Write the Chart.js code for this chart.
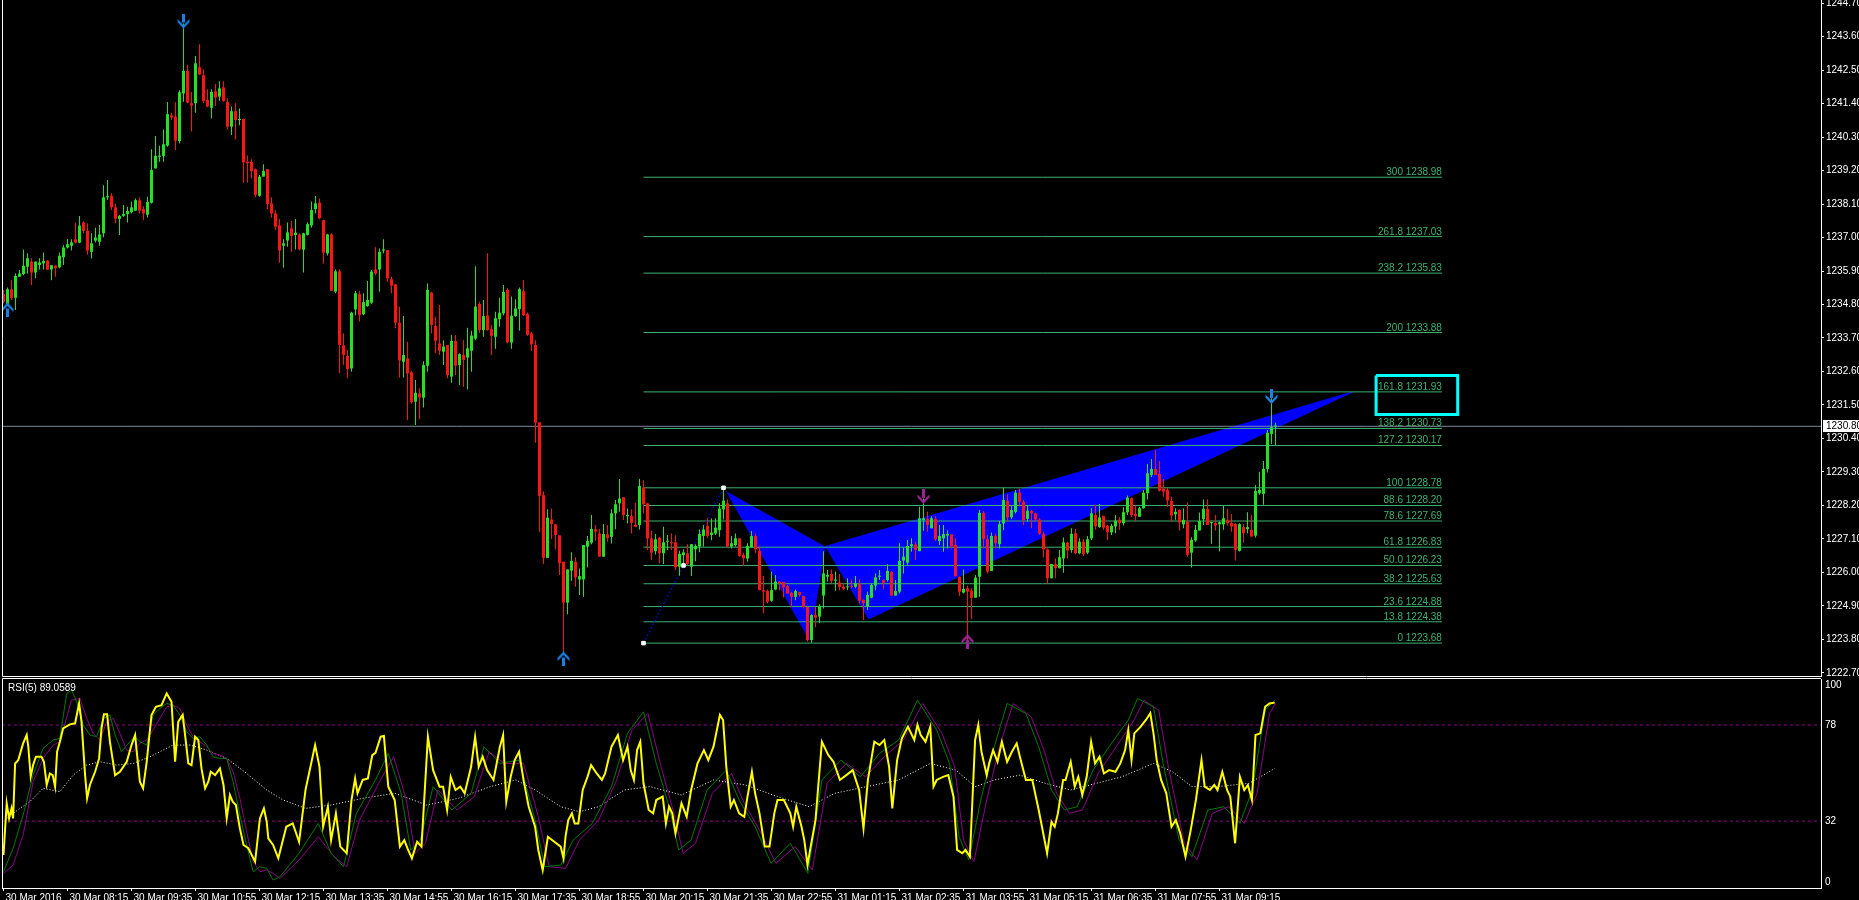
<!DOCTYPE html>
<html>
<head>
<meta charset="utf-8">
<script src="https://cdn.jsdelivr.net/npm/chart.js@4.4.1/dist/chart.umd.min.js"></script>
<style>
  html, body { margin: 0; padding: 0; background: #000; overflow: hidden; }
  canvas { position: absolute; left: 0; }
</style>
</head>
<body>
<canvas id="priceChart" width="1859" height="678" style="top:0"></canvas>
<canvas id="rsiChart" width="1859" height="222" style="top:678px"></canvas>
<script>
const FONT = '"Liberation Sans", Arial, sans-serif';
const FONT_SIZE = 10;

// x axis: one label every 16 bars (M5)
const timeTickBars = [0, 16, 32, 48, 64, 80, 96, 112, 128, 144, 160, 176, 192, 208, 224, 240, 256, 272, 288, 304];
const timeLabels = ['30 Mar 2016', '30 Mar 08:15', '30 Mar 09:35', '30 Mar 10:55', '30 Mar 12:15', '30 Mar 13:35',
  '30 Mar 14:55', '30 Mar 16:15', '30 Mar 17:35', '30 Mar 18:55', '30 Mar 20:15', '30 Mar 21:35', '30 Mar 22:55',
  '31 Mar 01:15', '31 Mar 02:35', '31 Mar 03:55', '31 Mar 05:15', '31 Mar 06:35', '31 Mar 07:55', '31 Mar 09:15'];

const priceTicks = [1222.70, 1223.80, 1224.90, 1226.00, 1227.10, 1228.20, 1229.30, 1230.40, 1231.50, 1232.60, 1233.70,
  1234.80, 1235.90, 1237.00, 1238.10, 1239.20, 1240.30, 1241.40, 1242.50, 1243.60, 1244.70];
const currentPrice = 1230.80;

const opens = [
  1235.14,1234.82,1235.30,1235.02,1235.71,1235.80,1236.04,1236.21,1235.85,1236.10,
  1236.15,1236.24,1235.95,1236.08,1236.02,1236.35,1236.67,1236.73,1236.94,1236.83,
  1237.49,1237.22,1236.53,1236.90,1236.86,1237.14,1238.32,1238.37,1237.99,1237.61,
  1237.71,1237.77,1237.83,1237.88,1238.22,1237.93,1237.75,1238.14,1239.27,1239.65,
  1239.68,1240.02,1241.01,1240.97,1240.17,1241.73,1242.47,1241.41,1241.41,1242.59,
  1242.33,1241.52,1241.26,1241.80,1241.63,1241.93,1241.45,1240.64,1241.15,1240.86,
  1240.89,1239.49,1239.48,1239.24,1238.37,1239.00,1239.24,1238.12,1237.79,1237.40,
  1236.73,1236.90,1237.30,1237.08,1237.10,1236.60,1237.09,1237.40,1237.93,1238.14,
  1237.57,1236.48,1237.10,1235.22,1235.89,1233.46,1233.11,1232.70,1234.64,1235.14,
  1234.48,1234.75,1234.86,1235.95,1235.95,1236.57,1236.59,1235.63,1235.46,1234.20,
  1232.92,1233.03,1232.57,1231.61,1231.88,1231.74,1232.79,1235.19,1234.09,1233.52,
  1233.25,1233.47,1232.43,1233.60,1232.81,1233.14,1233.06,1233.28,1233.68,1234.82,
  1233.96,1234.44,1233.99,1233.74,1234.32,1234.51,1235.28,1233.55,1234.42,1234.65,
  1235.24,1234.49,1233.85,1233.47,1230.93,1228.54,1226.48,1227.74,1227.58,1227.22,
  1226.35,1225.01,1226.06,1226.35,1225.77,1225.77,1226.85,1226.98,1227.42,1227.28,
  1226.52,1227.25,1227.17,1227.94,1228.27,1228.47,1227.85,1227.85,1227.56,1227.56,
  1228.79,1228.27,1227.12,1226.70,1227.14,1226.63,1227.01,1226.99,1226.99,1226.19,
  1226.57,1226.63,1226.19,1226.76,1226.85,1227.20,1227.52,1227.23,1227.28,1227.39,
  1228.07,1228.27,1226.85,1226.90,1227.12,1226.57,1226.46,1226.82,1227.20,1226.71,
  1225.42,1225.39,1225.07,1225.44,1225.70,1225.69,1225.55,1225.33,1225.20,1225.36,
  1225.23,1224.87,1223.78,1224.60,1224.55,1225.24,1225.86,1225.95,1225.73,1225.67,
  1225.53,1225.51,1225.56,1225.53,1225.62,1225.10,1224.90,1225.17,1225.57,1225.86,
  1225.75,1225.75,1226.02,1225.24,1225.37,1226.39,1226.32,1226.87,1226.92,1226.70,
  1227.72,1227.76,1227.45,1227.76,1227.03,1227.12,1227.21,1227.25,1226.90,1225.86,
  1225.34,1225.48,1225.40,1225.17,1225.86,1227.96,1227.09,1226.05,1227.20,1226.93,
  1227.61,1228.35,1227.81,1227.99,1228.62,1228.32,1227.76,1228.02,1227.94,1227.74,
  1227.26,1226.76,1225.81,1226.27,1226.14,1226.46,1226.98,1226.74,1227.29,1226.63,
  1227.01,1226.65,1227.12,1227.89,1227.49,1227.86,1227.53,1227.32,1227.51,1227.73,
  1227.62,1227.98,1228.44,1227.92,1227.83,1228.11,1228.60,1229.20,1229.40,1229.23,
  1228.75,1228.71,1228.35,1227.91,1228.05,1227.58,1227.67,1226.65,1227.05,1227.38,
  1227.75,1228.09,1227.62,1227.62,1227.58,1227.58,1227.73,1227.62,1227.59,1226.71,
  1227.49,1227.42,1227.40,1227.21,1228.60,1228.58,1229.40,1230.55,1230.79
];
const highs = [
  1235.28,1235.36,1235.60,1235.82,1235.93,1236.61,1236.48,1236.32,1236.21,1236.32,
  1236.51,1236.26,1236.09,1236.08,1236.51,1236.75,1236.95,1236.94,1237.49,1237.71,
  1237.53,1237.47,1237.14,1237.32,1237.41,1238.72,1238.89,1238.45,1238.10,1237.74,
  1238.07,1238.01,1238.18,1238.28,1238.31,1238.03,1238.34,1239.90,1240.33,1240.01,
  1240.55,1241.45,1241.10,1241.44,1241.84,1244.03,1242.67,1241.78,1242.96,1243.35,
  1242.52,1241.87,1241.87,1242.04,1242.13,1242.13,1241.57,1241.30,1241.41,1241.24,
  1240.91,1239.69,1239.57,1239.27,1239.05,1239.41,1239.24,1238.31,1237.90,1237.61,
  1236.94,1237.49,1237.55,1237.61,1237.14,1237.16,1237.50,1238.18,1238.36,1238.28,
  1237.57,1237.12,1237.14,1235.95,1235.95,1233.85,1233.31,1234.56,1235.24,1235.25,
  1235.17,1235.57,1235.93,1236.68,1236.64,1236.94,1236.59,1235.71,1235.47,1234.73,
  1234.42,1233.58,1232.63,1232.32,1232.05,1232.94,1235.49,1235.22,1234.40,1234.78,
  1233.63,1233.47,1233.80,1233.80,1233.20,1233.63,1234.04,1233.94,1236.06,1234.89,
  1234.95,1236.48,1234.13,1234.56,1235.02,1235.44,1235.33,1235.06,1234.97,1235.36,
  1235.60,1234.54,1233.90,1233.63,1230.93,1228.67,1228.08,1228.10,1227.58,1227.22,
  1226.35,1226.10,1226.66,1226.50,1226.13,1226.90,1227.20,1227.89,1227.56,1227.42,
  1227.59,1227.56,1228.08,1228.38,1229.07,1228.47,1228.10,1228.07,1228.29,1229.07,
  1229.03,1228.27,1227.37,1227.26,1227.17,1227.50,1227.23,1227.28,1227.22,1226.71,
  1226.76,1226.93,1226.93,1226.93,1227.41,1227.56,1227.78,1227.78,1227.78,1228.27,
  1228.82,1228.40,1227.20,1227.28,1227.12,1226.65,1226.96,1227.36,1227.28,1226.85,
  1225.88,1225.44,1226.02,1225.92,1225.70,1225.69,1225.59,1225.37,1225.44,1225.37,
  1225.23,1224.87,1224.63,1224.87,1224.96,1226.70,1226.08,1226.10,1226.03,1225.95,
  1225.64,1225.81,1225.77,1225.88,1225.77,1225.12,1225.37,1225.64,1225.97,1226.08,
  1225.77,1226.27,1226.05,1225.75,1226.96,1226.83,1227.07,1227.12,1227.01,1228.16,
  1228.43,1227.99,1227.85,1227.85,1227.56,1227.56,1227.39,1227.25,1227.12,1225.86,
  1226.10,1225.56,1225.48,1225.92,1228.05,1228.02,1227.23,1227.31,1227.28,1227.69,
  1228.78,1228.57,1228.19,1228.71,1228.76,1228.38,1228.19,1228.05,1227.96,1227.78,
  1227.34,1226.79,1226.28,1226.46,1226.74,1227.15,1227.01,1227.45,1227.43,1227.12,
  1227.10,1227.20,1228.11,1228.22,1228.25,1227.86,1227.56,1227.60,1227.89,1227.81,
  1228.14,1228.53,1228.46,1228.20,1228.16,1228.71,1229.56,1229.73,1230.02,1229.66,
  1229.07,1228.77,1228.49,1228.11,1228.08,1228.11,1228.31,1227.16,1227.56,1227.97,
  1228.40,1228.40,1227.67,1227.89,1227.67,1228.20,1228.09,1227.92,1227.62,1227.62,
  1227.59,1227.98,1227.89,1228.87,1229.31,1229.66,1230.68,1231.72,1230.92
];
const lows = [
  1234.84,1234.78,1234.95,1234.62,1235.71,1235.76,1235.82,1235.44,1235.66,1235.95,
  1235.95,1235.93,1235.60,1235.71,1235.99,1236.10,1236.64,1236.57,1236.81,1236.81,
  1237.14,1236.43,1236.31,1236.84,1236.73,1237.01,1238.23,1237.90,1237.47,1237.08,
  1237.68,1237.49,1237.79,1237.88,1237.79,1237.57,1237.66,1238.12,1239.27,1239.49,
  1239.49,1239.98,1240.86,1239.87,1240.09,1241.46,1241.41,1240.48,1241.10,1242.34,
  1241.41,1241.28,1240.91,1241.32,1241.49,1241.46,1240.55,1240.37,1240.22,1240.69,
  1238.80,1238.81,1238.94,1238.32,1238.34,1239.00,1237.93,1237.66,1237.25,1236.17,
  1236.01,1236.70,1236.53,1236.61,1236.57,1235.85,1237.07,1237.32,1237.79,1237.60,
  1236.15,1236.41,1235.25,1235.17,1232.54,1232.81,1232.38,1232.59,1234.45,1234.24,
  1234.45,1234.73,1234.82,1235.77,1235.22,1236.48,1235.55,1235.17,1234.02,1232.40,
  1232.40,1231.01,1231.53,1230.84,1231.03,1231.42,1232.59,1233.85,1233.20,1233.14,
  1232.81,1232.38,1232.23,1232.48,1232.16,1232.10,1232.01,1232.59,1233.63,1233.87,
  1233.74,1233.94,1233.14,1233.35,1234.07,1234.45,1233.52,1233.35,1234.40,1233.94,
  1234.42,1233.77,1233.28,1230.26,1227.34,1226.28,1226.48,1227.10,1226.76,1225.92,
  1223.34,1224.63,1225.73,1225.53,1225.26,1225.20,1226.17,1226.93,1227.04,1226.52,
  1226.52,1227.01,1226.95,1227.42,1227.99,1227.72,1227.61,1227.28,1227.50,1227.41,
  1227.94,1226.74,1226.41,1226.59,1226.30,1226.28,1226.74,1226.74,1226.08,1225.89,
  1226.28,1226.24,1225.88,1226.37,1226.66,1226.85,1227.12,1227.06,1227.23,1227.17,
  1227.74,1226.82,1226.79,1226.85,1226.52,1226.21,1226.35,1226.82,1226.65,1225.42,
  1224.66,1224.98,1225.04,1225.42,1225.42,1225.18,1225.29,1224.87,1225.09,1225.20,
  1224.82,1223.73,1223.69,1224.20,1224.33,1224.82,1225.70,1225.64,1225.40,1225.42,
  1225.42,1225.42,1225.48,1225.48,1224.99,1224.44,1224.77,1225.15,1225.42,1225.75,
  1225.45,1225.70,1225.24,1225.24,1225.31,1225.97,1226.25,1226.68,1226.41,1226.70,
  1227.37,1227.34,1227.45,1227.03,1226.90,1226.68,1226.79,1226.79,1225.86,1225.23,
  1225.31,1223.67,1224.47,1225.17,1225.20,1226.79,1225.97,1226.05,1226.79,1226.79,
  1227.39,1227.67,1227.76,1227.94,1228.16,1227.56,1227.67,1227.45,1227.67,1227.23,
  1226.50,1225.64,1225.81,1225.81,1226.14,1225.99,1226.46,1226.65,1226.60,1226.60,
  1226.54,1226.60,1227.07,1227.40,1227.47,1227.40,1227.07,1227.23,1227.29,1227.40,
  1227.54,1227.89,1227.81,1227.69,1227.83,1228.09,1228.40,1229.13,1229.20,1228.66,
  1228.49,1228.16,1227.67,1227.73,1227.38,1227.45,1226.52,1226.16,1227.01,1227.38,
  1227.56,1227.56,1226.94,1227.38,1226.69,1227.40,1227.54,1227.34,1226.39,1226.69,
  1226.98,1227.29,1227.18,1227.15,1228.55,1228.22,1229.28,1230.22,1230.19
];
const closes = [
  1234.89,1235.30,1235.02,1235.74,1235.82,1236.07,1236.32,1235.85,1236.21,1236.18,
  1236.23,1235.95,1236.09,1235.99,1236.40,1236.67,1236.78,1236.84,1236.83,1237.39,
  1237.22,1236.57,1236.81,1237.00,1237.10,1238.32,1238.36,1237.99,1237.62,1237.71,
  1237.77,1237.87,1237.99,1238.23,1237.88,1237.79,1238.17,1239.22,1239.68,1239.69,
  1240.06,1241.05,1240.94,1240.18,1241.77,1242.47,1241.43,1241.34,1242.72,1242.35,
  1241.49,1241.30,1241.78,1241.60,1241.90,1241.49,1240.64,1241.15,1240.86,1240.88,
  1239.47,1239.44,1239.18,1238.40,1239.00,1239.18,1238.10,1237.79,1237.36,1236.57,
  1236.81,1237.17,1237.05,1237.16,1236.61,1237.14,1237.44,1237.90,1238.12,1237.63,
  1236.50,1237.10,1235.25,1235.89,1233.47,1233.14,1232.68,1234.53,1235.17,1234.45,
  1234.88,1234.95,1235.88,1235.82,1236.53,1236.61,1235.66,1235.42,1234.20,1232.96,
  1233.14,1232.54,1231.59,1231.90,1231.75,1232.81,1235.28,1234.13,1233.61,1233.28,
  1233.42,1232.48,1233.60,1232.79,1233.17,1232.98,1233.36,1233.78,1234.73,1233.96,
  1234.42,1233.96,1233.77,1234.35,1234.53,1235.21,1233.56,1234.43,1234.67,1235.30,
  1234.45,1233.80,1233.49,1230.92,1228.52,1226.48,1227.80,1227.59,1227.23,1226.30,
  1225.01,1226.10,1226.38,1225.84,1225.88,1226.90,1227.03,1227.43,1227.34,1226.52,
  1227.26,1227.14,1227.94,1228.24,1228.43,1227.89,1227.89,1227.63,1227.50,1228.84,
  1228.24,1227.12,1226.65,1227.09,1226.63,1226.99,1227.03,1226.96,1226.17,1226.61,
  1226.66,1226.28,1226.93,1226.87,1227.26,1227.41,1227.20,1227.31,1227.47,1228.10,
  1228.36,1226.85,1226.96,1227.12,1226.55,1226.46,1226.87,1227.20,1226.76,1225.42,
  1225.37,1225.04,1225.42,1225.70,1225.64,1225.51,1225.31,1225.20,1225.39,1225.26,
  1224.88,1223.78,1224.60,1224.52,1224.90,1225.97,1225.92,1225.73,1225.77,1225.53,
  1225.46,1225.53,1225.53,1225.64,1225.07,1224.99,1225.26,1225.59,1225.84,1225.86,
  1225.66,1226.05,1225.24,1225.39,1226.38,1226.52,1226.87,1226.93,1226.74,1227.78,
  1227.78,1227.56,1227.78,1227.09,1227.20,1227.26,1227.26,1226.85,1225.88,1225.37,
  1225.46,1225.37,1225.17,1225.83,1227.96,1227.09,1226.03,1227.20,1226.96,1227.59,
  1228.38,1227.81,1228.05,1228.62,1228.32,1227.72,1228.03,1227.94,1227.74,1227.28,
  1226.76,1225.81,1226.28,1226.14,1226.50,1226.99,1226.72,1227.27,1226.63,1227.01,
  1226.60,1227.09,1227.94,1227.51,1227.81,1227.47,1227.32,1227.53,1227.70,1227.62,
  1227.98,1228.46,1227.89,1227.86,1228.11,1228.62,1229.26,1229.40,1229.20,1228.69,
  1228.66,1228.36,1227.87,1227.99,1227.64,1227.73,1226.58,1227.07,1227.40,1227.69,
  1228.09,1227.56,1227.65,1227.54,1227.65,1227.78,1227.62,1227.51,1226.74,1227.59,
  1227.29,1227.49,1227.18,1228.68,1228.71,1229.40,1230.59,1230.77,1230.80
];

// fibonacci expansion
const fibNames = ['0', '13.8', '23.6', '38.2', '50.0', '61.8', '78.6', '88.6', '100', '127.2', '138.2', '161.8', '200', '238.2', '261.8', '300'];
const fibPrices = [1223.68, 1224.38, 1224.88, 1225.63, 1226.23, 1226.83, 1227.69, 1228.20, 1228.78, 1230.17, 1230.73, 1231.93, 1233.88, 1235.83, 1237.03, 1238.98];
const fibAnchorBars = [160, 170, 180];
const fibAnchorPrices = [1223.68, 1226.23, 1228.78];
const fibLineEnd = 359.6;

// harmonic pattern X, A, B, C, D
const patternBars = [180.8, 201.5, 205.4, 216.2, 337.3];
const patternPrices = [1228.66, 1223.78, 1226.85, 1224.47, 1231.93];

// cyan box round the 161.8 level
const boxBars = [343.15, 363.55];
const boxPrices = [1232.47, 1231.19];

// fractal arrows
const arrowBars = [1, 45, 140, 230, 241, 317];
const arrowPrices = [1234.62, 1244.11, 1223.16, 1228.50, 1223.73, 1231.78];
const arrowDown = [false, true, false, true, false, true];
const arrowColors = ['#1c7fe3', '#1c7fe3', '#1c7fe3', '#a0229b', '#a0229b', '#1c7fe3'];

// RSI(5) and its signal lines
const rsiTitle = 'RSI(5) 89.0589';
const rsiLevels = [78, 32];
const rsiLevelLabels = [100, 78, 32, 0];
const rsiBars = [
  0.0,0.3,0.8,1.4,2.0,2.4,2.9,3.7,4.9,5.8, 6.2,6.8,7.4,8.1,9.5,10.1,10.8,11.6,12.3,12.9,
  13.4,14.1,14.9,16.6,17.9,18.9,19.5,20.4,20.9,21.6, 22.9,23.9,24.5,25.1,25.9,26.6,27.9,29.1,30.8,32.0,
  32.9,33.4,34.1,34.9,35.8,37.0,38.1,39.5,40.8,42.0, 42.4,42.9,43.7,44.8,45.4,46.2,47.0,47.9,48.7,49.5,
  50.4,51.2,51.8,52.9,54.1,55.0,55.8,56.6,57.3,58.1, 59.1,60.0,61.2,62.9,64.1,65.1,65.8,66.2,67.4,68.7,
  70.7,72.3,73.9,75.5,77.9,79.0,79.9,81.1,81.9,83.1, 84.2,85.8,87.0,87.9,88.5,89.8,91.1,92.2,93.0,94.3,
  95.1,96.2,97.8,99.1,100.2,101.0,102.1,103.4,104.5,106.1, 107.4,109.0,109.9,110.9,111.8,113.0,114.2,115.3,116.9,117.9,
  118.8,119.8,120.9,122.5,124.1,124.9,125.7,126.8,127.8,128.9, 130.0,131.3,132.9,133.7,134.8,136.1,137.7,139.3,140.0,140.5,
  141.2,142.1,142.8,143.7,144.8,146.0,146.9,148.3,149.6,150.4, 152.0,153.6,154.9,156.0,156.8,157.6,158.4,159.2,160.0,161.3,
  162.4,163.2,164.8,165.6,166.4,167.2,168.0,169.5,170.8,171.9, 173.5,175.1,176.2,177.5,179.1,179.9,180.7,181.8,182.6,183.9,
  185.2,186.0,187.1,187.9,189.0,190.3,191.5,192.7,193.5,195.1, 196.7,197.4,198.2,199.5,200.2,201.0,201.8,203.0,204.6,206.2,
  207.5,209.1,210.7,212.3,213.9,215.0,216.1,217.7,219.0,220.2, 221.4,222.2,223.4,224.6,226.1,227.7,228.5,229.3,230.5,231.7,
  232.5,233.3,234.9,236.2,237.5,238.4,239.7,240.5,241.6,242.9, 243.7,244.5,245.8,246.4,247.4,248.5,249.6,250.9,252.1,253.3,
  254.1,255.6,257.2,258.8,260.1,260.9,262.0,262.8,263.6,264.9, 265.5,266.8,267.8,268.7,269.7,270.8,271.9,272.9,274.0,275.1,
  276.4,278.0,279.2,280.4,281.2,282.0,282.7,284.3,285.6,286.7, 287.5,288.3,289.4,290.7,292.0,293.1,294.2,295.5,296.8,298.1,
  299.5,300.3,301.6,302.7,303.5,304.7,305.9,306.7,307.9,309.1, 310.2,311.1,312.1,313.0,314.2,315.4,316.5,317.8
];
const rsiValues = [
  15.8,25.3,40.5,33.3,38.1,33.3,59.6,61.2,69.2,73.2, 67.6,53.3,58.8,62.8,62.8,60.4,49.3,54.8,54.0,48.5,
  65.2,70.0,76.4,78.3,78.8,88.3,79.6,54.0,42.9,49.3, 55.6,62.0,76.4,83.1,83.1,70.0,54.0,55.6,60.4,68.4,
  73.2,63.6,50.9,47.7,60.4,82.8,86.7,87.5,93.1,89.1, 76.4,60.4,79.6,82.8,73.2,59.6,58.8,72.4,70.8,57.2,
  47.7,50.9,55.6,54.0,57.2,49.3,33.3,44.5,41.3,39.7, 28.5,20.6,19.0,12.6,33.3,38.1,31.7,23.7,20.6,14.2,
  29.3,30.9,22.1,46.9,68.4,58.0,29.3,38.9,22.9,35.7, 19.8,16.6,42.1,52.4,45.3,51.7,52.4,63.6,64.7,72.4,
  72.7,48.5,42.1,19.8,22.9,19.0,14.2,22.1,19.8,72.4, 56.4,48.5,48.5,37.3,53.2,46.9,48.5,45.3,58.0,72.4,
  58.0,62.8,56.4,51.7,67.6,73.2,41.3,53.2,61.2,65.2, 51.7,38.9,29.3,18.2,8.6,24.5,22.1,19.8,14.2,24.5,
  32.5,35.7,30.9,30.9,46.9,53.2,58.8,54.8,51.7,54.8, 67.6,73.2,61.2,67.6,56.4,51.7,66.0,70.0,50.1,37.3,
  35.7,42.1,43.7,30.9,38.9,35.7,26.1,40.5,34.1,46.9, 59.6,66.0,61.2,67.6,82.8,80.4,58.0,38.9,42.1,35.7,
  34.1,43.7,55.6,45.3,35.7,19.8,19.8,35.7,42.1,42.1, 35.7,29.3,38.9,29.3,22.9,11.0,19.8,32.5,70.0,63.6,
  60.4,51.7,54.0,56.4,46.9,28.5,51.7,70.0,68.4,70.8, 58.0,38.1,61.2,71.6,77.2,70.8,78.0,73.2,70.0,77.2,
  48.5,51.7,53.2,54.0,43.7,18.2,16.6,18.2,15.0,70.8, 78.0,65.2,54.0,59.6,66.0,60.4,70.0,60.4,65.2,69.2,
  62.8,51.7,51.7,37.3,24.5,16.6,31.7,29.3,35.7,51.7, 51.7,60.4,48.5,53.2,44.5,53.2,70.0,59.6,62.8,54.8,
  56.4,55.6,59.6,66.0,75.6,61.2,74.0,77.2,80.4,83.6, 74.0,61.2,51.7,45.3,29.3,32.5,26.1,15.0,27.7,42.1,
  61.2,48.5,46.9,49.3,46.9,55.6,46.9,43.7,21.4,53.2, 46.9,49.3,42.1,73.2,74.0,86.7,88.3,88.7
];
const fastBars = [
  0,2.4,4.9,7.4,9.9,12.4,14.1,15.8,17.0,18.3, 19.9,21.6,23.3,25.0,26.6,27.9,29.5,31.6,32.9,34.1,
  35.8,37.4,39.1,40.8,42.4,44.1,45.8,47.4,49.1,50.8, 52.4,54.1,55.8,57.4,59.1,60.8,62.4,64.1,65.8,67.4,
  69.1,73.9,78.7,81.9,85.0,88.2,93.0,96.2,99.4,101.8, 104.2,107.4,112.1,116.9,120.1,124.1,128.9,132.9,135.3,139.3,
  142.4,147.2,152.0,156.0,160.0,163.2,166.4,168.8,171.9,175.9, 180.7,183.9,187.9,191.9,196.7,201.1,204.6,209.4,214.2,219.0,
  223.8,228.5,233.3,236.5,238.9,241.3,244.5,247.7,250.9,255.6, 258.8,262.0,265.2,268.4,272.4,276.4,281.2,283.5,287.5,289.9,
  293.9,297.1,301.1,305.1,309.1,312.2,315.4,317.8
];
const fastValues = [
  7.8,19.0,34.9,54.0,66.8,70.8,71.6,93.1,94.7,89.1, 78.0,73.2,72.4,81.2,82.8,73.2,65.2,70.0,72.4,70.0,
  68.4,82.8,85.9,88.3,87.5,82.8,74.8,71.6,72.4,68.4, 62.8,62.0,62.0,50.9,34.9,20.6,7.8,10.2,9.4,3.8,
  5.4,16.6,30.9,16.6,10.2,35.7,51.7,64.4,45.3,18.2, 22.9,48.5,37.3,45.3,67.6,59.6,61.2,32.5,10.2,11.0,
  22.9,30.9,48.5,74.0,84.3,59.6,38.9,18.2,22.9,46.9, 56.4,42.1,29.3,11.8,21.4,7.0,51.7,61.2,53.2,64.4,
  70.8,89.9,75.6,59.6,24.5,13.4,43.7,67.6,88.3,83.5, 67.6,46.9,37.3,38.9,56.4,67.6,80.4,90.7,86.7,59.6,
  22.9,15.0,37.3,38.9,30.9,46.9,85.1,89.9
];
const slowBars = [
  0,2.4,4.9,7.4,9.9,12.4,14.1,17.0,19.1,20.8, 22.4,24.1,25.8,27.4,29.1,30.8,32.4,34.1,35.8,37.4,
  39.1,40.8,42.4,44.1,45.8,47.4,49.1,50.8,52.4,54.1, 55.8,57.4,59.1,60.8,62.4,64.1,65.8,67.4,
  69.1,73.9,78.7,82.7,85.8,89.0,93.8,97.5,100.7,102.9, 105.5,108.6,113.4,117.7,121.4,125.2,130.0,133.7,136.4,140.5,
  144.0,148.8,153.3,157.1,161.1,164.4,167.6,169.9,173.0,177.2, 182.0,185.2,189.0,193.1,197.9,202.2,205.9,210.7,215.5,220.2,
  225.0,229.8,234.6,237.8,240.0,242.6,245.8,249.0,252.4,256.9, 260.1,263.3,266.5,269.7,273.7,277.6,282.4,285.1,288.8,291.2,
  295.2,298.4,302.2,306.3,310.2,313.4,316.5,318.0
];
const slowValues = [
  7.0,11.0,25.3,50.9,62.0,68.4,70.0,89.9,90.7,81.2, 74.0,70.8,79.6,81.2,74.0,66.0,65.2,69.2,70.8,75.6,
  81.2,86.7,87.5,85.9,78.0,72.4,70.0,67.6,64.4,63.6, 62.0,55.6,42.9,26.9,12.6,7.8,8.6,7.0,
  4.6,13.4,24.5,15.0,10.2,32.5,50.1,62.8,42.1,16.6, 21.4,46.9,37.3,43.7,65.2,59.6,59.6,34.1,10.2,9.4,
  22.9,32.5,51.7,75.6,83.5,58.0,35.7,16.6,21.4,45.3, 54.8,40.5,27.7,11.8,19.8,8.6,50.1,59.6,53.2,62.8,
  70.8,88.3,74.0,58.0,22.9,12.6,42.1,67.6,88.3,82.0, 66.0,45.3,35.7,37.3,54.8,66.0,79.6,89.9,85.1,58.0,
  21.4,13.4,35.7,38.9,30.9,45.3,83.5,88.3
];
const trendBars = [
  0.8,4.1,6.6,9.9,14.1,17.4,20.8,24.1,28.3,32.4,36.6,42.4,46.6,50.8,55.8,60.8,65.8,69.9,
  75.5,81.9,89.8,97.8,105.8,113.7,121.7,128.1,132.9,139.3, 144.0,148.8,155.2,161.6,169.5,177.5,185.5,193.5,201.4,207.8,
  215.8,223.8,231.7,238.1,242.9,247.7,254.1,260.4,266.8,273.2, 279.6,287.5,292.3,297.1,303.5,311.4,317.8
];
const trendValues = [
  33.3,38.1,41.3,47.7,46.1,54.0,58.8,60.4,58.8,59.6,62.8,68.4,68.4,66.0,62.0,54.8,46.9,42.1,
  38.1,39.7,42.9,45.3,39.7,42.9,48.5,51.7,46.9,38.9, 36.5,38.9,46.9,48.5,44.5,51.7,49.3,43.7,38.9,45.3,
  48.5,51.7,59.6,56.4,48.5,51.7,54.0,50.1,46.9,50.1, 53.2,59.6,55.6,48.5,48.5,50.1,57.2
];

const X_MIN = -0.375, X_MAX = 454.375;
const FIB_COLOR = '#3cb371';
const UP = '#25e025', DOWN = '#ff1414';
const candleColors = closes.map((c, i) => (c >= opens[i] ? UP : DOWN));

function arrowImage(color, down) {
  const c = document.createElement('canvas');
  c.width = 13; c.height = 15;
  const g = c.getContext('2d');
  g.fillStyle = color;
  g.translate(6.5, 7.5);
  if (!down) g.scale(1, -1);
  g.fillRect(-1.5, -7.5, 3, 9);
  g.beginPath();
  g.moveTo(-6, -2); g.lineTo(0, 4); g.lineTo(6, -2); g.lineTo(6, 1); g.lineTo(0, 7.5); g.lineTo(-6, 1);
  g.closePath();
  g.fill();
  return c;
}

const pt = (x, y) => ({ x, y });
const P = i => pt(patternBars[i], patternPrices[i]);

const mainDatasets = [
  { type: 'bar', data: opens.map((o, i) => pt(i, [o, closes[i]])), backgroundColor: candleColors,
    barThickness: 3, minBarLength: 1, grouped: false, inflateAmount: 0, borderWidth: 0, order: 4 },
  { type: 'bar', data: lows.map((l, i) => pt(i, [l, highs[i]])), backgroundColor: candleColors,
    barThickness: 1, grouped: false, inflateAmount: 0, borderWidth: 0, order: 5 },
  { type: 'line', data: arrowBars.map((b, i) => pt(b, arrowPrices[i])), showLine: false,
    pointStyle: arrowBars.map((b, i) => arrowImage(arrowColors[i], arrowDown[i])), pointRadius: 7, order: 2 },
  { type: 'line', data: [pt(boxBars[0], boxPrices[0]), pt(boxBars[1], boxPrices[0]), pt(boxBars[1], boxPrices[1]),
      pt(boxBars[0], boxPrices[1]), pt(boxBars[0], boxPrices[0])],
    borderColor: '#00ffff', borderWidth: 3, pointRadius: 0, borderJoinStyle: 'miter', order: 1 },
  { type: 'line', data: fibAnchorBars.map((b, i) => pt(b, fibAnchorPrices[i])), showLine: false,
    pointStyle: 'rect', pointRadius: 2.5, pointBackgroundColor: '#ffffff', pointBorderColor: '#ffffff', order: 0 },
  { type: 'line', data: [pt(X_MIN, currentPrice), pt(X_MAX, currentPrice)], borderColor: '#7d8a99', borderWidth: 1, pointRadius: 0, order: 7 },
  { type: 'line', data: [pt(fibAnchorBars[0], fibAnchorPrices[0]), pt(fibAnchorBars[2], fibAnchorPrices[2])],
    borderColor: '#0000ff', borderWidth: 1, borderDash: [2, 2], pointRadius: 0, order: 8 },
  ...fibPrices.map(p => ({ type: 'line', data: [pt(fibAnchorBars[0], p), pt(fibLineEnd, p)],
    borderColor: FIB_COLOR, borderWidth: 1, pointRadius: 0, order: 9 })),
  { type: 'line', data: [P(0), P(1), P(2)], fill: 'shape', backgroundColor: '#0000ff', borderColor: '#0000ff',
    borderWidth: 1, pointRadius: 0, order: 10 },
  { type: 'line', data: [P(2), P(4), P(3)], fill: 'shape', backgroundColor: '#0000ff', borderColor: '#0000ff',
    borderWidth: 1, pointRadius: 0, order: 10 }
];

const mainOverlay = {
  id: 'mainOverlay',
  afterDatasetsDraw(chart) {
    const { ctx, scales: { x, y } } = chart;
    ctx.save();
    ctx.font = FONT_SIZE + 'px ' + FONT;
    ctx.fillStyle = FIB_COLOR;
    ctx.textAlign = 'right';
    ctx.textBaseline = 'alphabetic';
    const xe = x.getPixelForValue(fibLineEnd);
    fibPrices.forEach((p, i) => ctx.fillText(fibNames[i] + ' ' + p.toFixed(2), xe, y.getPixelForValue(p) - 2));
    ctx.restore();
  },
  afterDraw(chart) {
    const { ctx, chartArea: a, scales: { y } } = chart;
    ctx.save();
    ctx.strokeStyle = '#ffffff';
    ctx.lineWidth = 1;
    ctx.beginPath();
    ctx.moveTo(a.left + 0.5, 0);
    ctx.lineTo(a.left + 0.5, a.bottom + 0.5);
    ctx.lineTo(a.right, a.bottom + 0.5);
    ctx.stroke();
    const py = y.getPixelForValue(currentPrice);
    ctx.fillStyle = '#ffffff';
    ctx.fillRect(a.right + 2, Math.round(py) - 6, 40, 12);
    ctx.fillStyle = '#000000';
    ctx.font = FONT_SIZE + 'px ' + FONT;
    ctx.textAlign = 'left';
    ctx.textBaseline = 'middle';
    ctx.fillText(currentPrice.toFixed(2), a.right + 5, py);
    ctx.restore();
  }
};

new Chart(document.getElementById('priceChart'), {
  type: 'bar',
  data: { datasets: mainDatasets },
  options: {
    responsive: false,
    animation: false,
    events: [],
    layout: { autoPadding: false, padding: { left: 2, top: 0, right: 0, bottom: 2 } },
    plugins: { legend: { display: false }, tooltip: { enabled: false } },
    scales: {
      x: { type: 'linear', min: X_MIN, max: X_MAX, offset: false, display: false },
      y: {
        type: 'linear', position: 'right', min: 1222.60, max: 1244.80, beginAtZero: false,
        afterBuildTicks: s => { s.ticks = priceTicks.map(v => ({ value: v })); },
        afterFit: s => { s.width = 38; s.paddingTop = 0; s.paddingBottom = 0; },
        ticks: { color: '#ffffff', font: { family: FONT, size: FONT_SIZE }, padding: 2, autoSkip: false,
          callback: v => Number(v).toFixed(2) },
        grid: { drawOnChartArea: false, drawTicks: true, tickLength: 3, tickColor: '#ffffff' },
        border: { display: true, color: '#ffffff' }
      }
    }
  },
  plugins: [mainOverlay]
});

const xy = (bars, vals) => bars.map((b, i) => pt(b, vals[i]));

const rsiOverlay = {
  id: 'rsiOverlay',
  afterDraw(chart) {
    const { ctx, chartArea: a, scales: { y } } = chart;
    ctx.save();
    ctx.strokeStyle = '#ffffff';
    ctx.lineWidth = 1;
    ctx.beginPath();
    ctx.moveTo(a.left + 0.5, a.bottom);
    ctx.lineTo(a.left + 0.5, 0.5);
    ctx.lineTo(a.right, 0.5);
    ctx.stroke();
    ctx.font = FONT_SIZE + 'px ' + FONT;
    ctx.fillStyle = '#ffffff';
    ctx.textAlign = 'left';
    ctx.textBaseline = 'middle';
    rsiLevelLabels.forEach(v => {
      const py = Math.min(Math.max(y.getPixelForValue(v), a.top + 6), a.bottom - 6);
      ctx.fillText(String(v), a.right + 4, py);
    });
    ctx.fillText(rsiTitle, a.left + 6, a.top + 9);
    ctx.restore();
  }
};

new Chart(document.getElementById('rsiChart'), {
  type: 'line',
  data: {
    datasets: [
      { data: xy(rsiBars, rsiValues), borderColor: '#ffff00', borderWidth: 2, pointRadius: 0, order: 0 },
      { data: xy(fastBars, fastValues), borderColor: '#007a00', borderWidth: 1, pointRadius: 0, order: 1 },
      { data: xy(slowBars, slowValues), borderColor: '#8b008b', borderWidth: 1, pointRadius: 0, order: 2 },
      { data: xy(trendBars, trendValues), borderColor: '#ffffff', borderWidth: 1, borderDash: [1, 2], pointRadius: 0, order: 3 },
      ...rsiLevels.map(v => ({ data: [pt(X_MIN, v), pt(X_MAX, v)], borderColor: '#8b008b', borderWidth: 1,
        borderDash: [3, 3], pointRadius: 0, order: 4 }))
    ]
  },
  options: {
    responsive: false,
    animation: false,
    events: [],
    layout: { autoPadding: false, padding: { left: 2, top: 1, right: 0, bottom: 0 } },
    plugins: { legend: { display: false }, tooltip: { enabled: false } },
    scales: {
      x: {
        type: 'linear', min: X_MIN, max: X_MAX, offset: false,
        afterBuildTicks: s => { s.ticks = timeTickBars.map(v => ({ value: v })); },
        afterFit: s => { s.height = 12; s.paddingLeft = 0; s.paddingRight = 0; },
        ticks: { color: '#ffffff', font: { family: FONT, size: FONT_SIZE }, autoSkip: false, maxRotation: 0, minRotation: 0,
          align: 'start', labelOffset: 2, padding: 1, callback: (v, i) => timeLabels[i] },
        grid: { drawOnChartArea: false, drawTicks: true, tickLength: 3, tickColor: '#ffffff', offset: false },
        border: { display: true, color: '#ffffff' }
      },
      y: {
        type: 'linear', position: 'right', min: 0, max: 100,
        afterFit: s => { s.width = 38; s.paddingTop = 0; s.paddingBottom = 0; },
        ticks: { display: false },
        grid: { drawOnChartArea: false, drawTicks: false },
        border: { display: true, color: '#ffffff' }
      }
    }
  },
  plugins: [rsiOverlay]
});
</script>
</body>
</html>
